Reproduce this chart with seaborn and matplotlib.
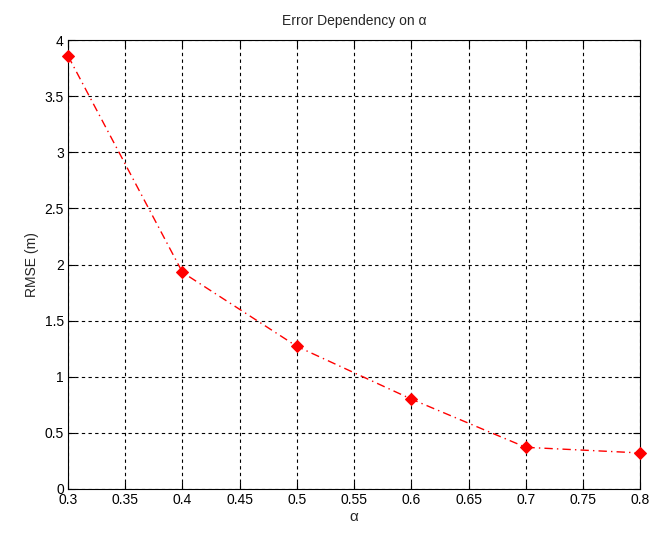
import matplotlib
matplotlib.use("Agg")
import matplotlib.pyplot as plt
import seaborn as sns
import pandas as pd

alpha = [0.3, 0.4, 0.5, 0.6, 0.7, 0.8]
rmse = [3.86, 1.93, 1.27, 0.80, 0.37, 0.32]
xticks = [0.3, 0.35, 0.4, 0.45, 0.5, 0.55, 0.6, 0.65, 0.7, 0.75, 0.8]
yticks = [0, 0.5, 1, 1.5, 2, 2.5, 3, 3.5, 4]

sns.set_theme(style="white")
plt.rcParams['font.family'] = ['Liberation Sans', 'DejaVu Sans']

df = pd.DataFrame({"alpha": alpha, "rmse": rmse})

fig = plt.figure(figsize=(6.54, 5.36), dpi=100)
ax = fig.add_axes([0.104, 0.088, 0.875, 0.837])
sns.lineplot(data=df, x="alpha", y="rmse", ax=ax, color="red",
             linestyle=(0, (6, 3, 1, 3)), linewidth=1.0,
             marker="D", markersize=6.5, markeredgecolor="red",
             markerfacecolor="red", clip_on=False, zorder=5)

ax.set_xlim(0.3, 0.8)
ax.set_ylim(0, 4)
ax.set_xticks(xticks)
ax.set_yticks(yticks)
ax.set_xticklabels([f"{t:g}" for t in xticks])
ax.set_yticklabels([f"{t:g}" for t in yticks])
ax.grid(True, color="black", linestyle=(0, (3, 3)), linewidth=0.8)
ax.set_axisbelow(True)
for s in ax.spines.values():
    s.set_color("black")
    s.set_linewidth(0.8)
ax.tick_params(direction="in", length=5, width=0.8, top=True, right=True,
               bottom=True, left=True, labelsize=10, colors="black", pad=3)
ax.set_xlabel("α", fontsize=11, labelpad=2)
ax.set_ylabel("RMSE (m)", fontsize=10)
ax.set_title("Error Dependency on α", fontsize=10, pad=11)

fig.savefig("out.png", dpi=100, facecolor="white")
